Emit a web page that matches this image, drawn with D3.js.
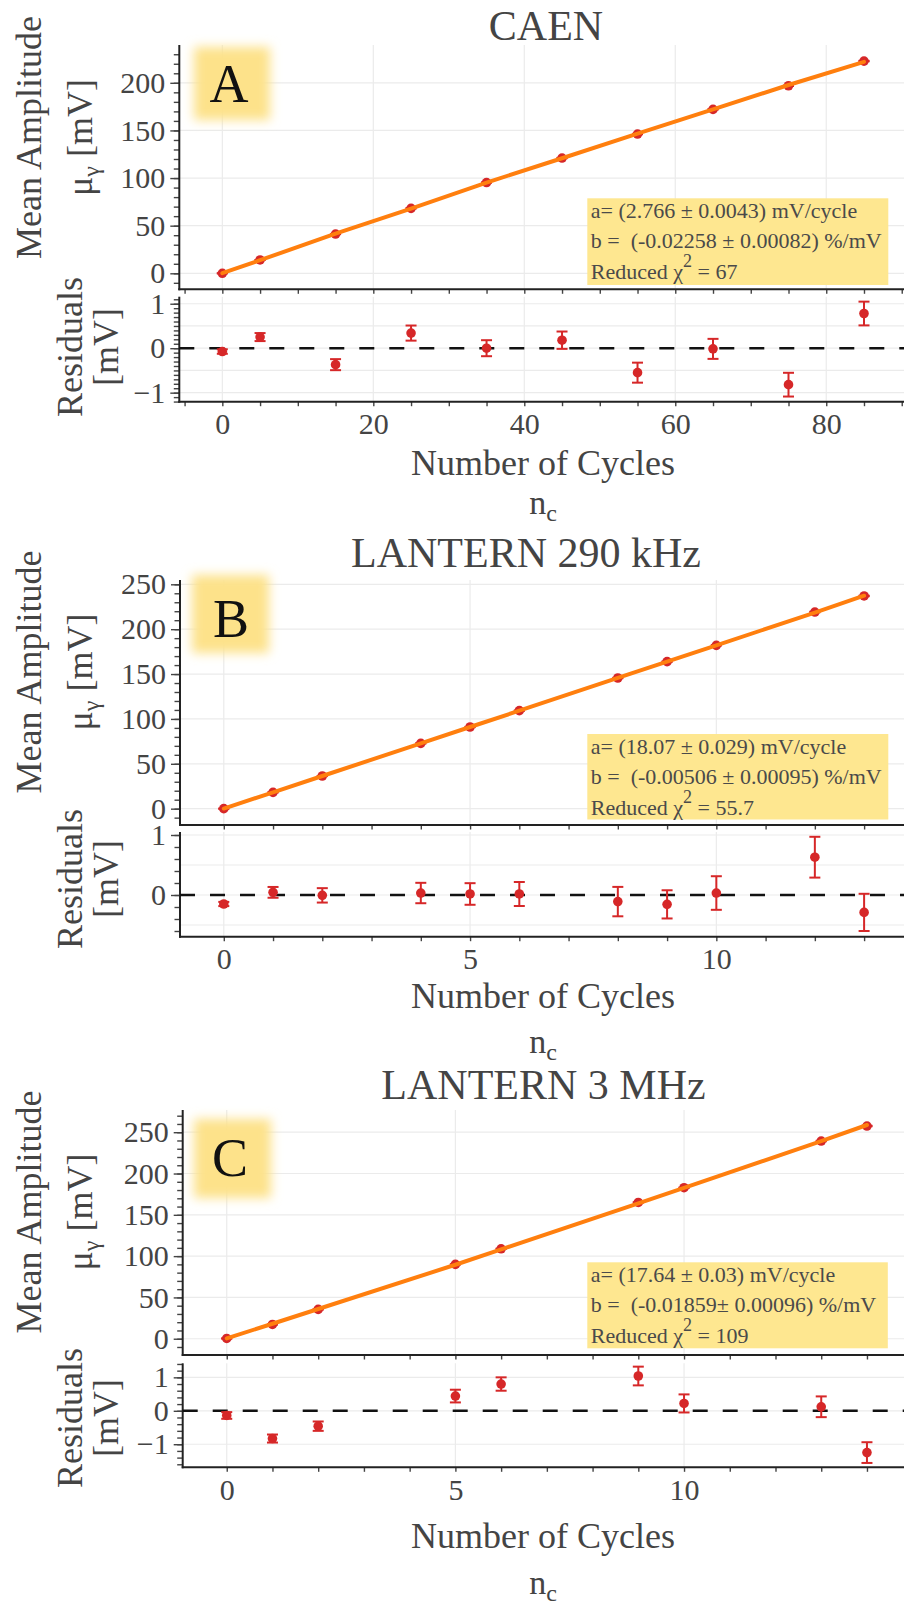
<!DOCTYPE html>
<html>
<head>
<meta charset="utf-8">
<script src="https://cdn.jsdelivr.net/npm/d3@7"></script>
<style>
  body { margin: 0; background: #fff; }
  svg { display: block; }
  text { font-family: "Liberation Serif", "Times New Roman", Times, serif; }
</style>
</head>
<body>
<svg id="chart" width="904" height="1602"></svg>
<script>
// ---------- CAEN digitiser ----------
const cyclesA   = [0, 5, 15, 25, 35, 45, 55, 65, 75, 85];
const meanA     = [0, 14.0, 41.2, 68.2, 95.3, 121.0, 146.2, 172.1, 196.9, 222.8];
const residA    = [-0.075, 0.25, -0.37, 0.34, 0.0, 0.18, -0.55, -0.015, -0.82, 0.78];
const errA      = [0.05, 0.09, 0.124, 0.17, 0.18, 0.195, 0.225, 0.225, 0.267, 0.267];
const xTicksA   = [0, 20, 40, 60, 80];
const yTicksA   = [0, 50, 100, 150, 200];
const resTicksA = [-1, 0, 1];
const resGridA  = [-1, -0.5, 0, 0.5, 1];
const fitA      = ["a= (2.766 ± 0.0043) mV/cycle", "b =\u00a0 (-0.02258 ± 0.00082) %/mV", "67"];

// ---------- LANTERN 290 kHz ----------
const cyclesB   = [0, 1, 2, 4, 5, 6, 8, 9, 10, 12, 13];
const meanB     = [0, 18.2, 36.4, 72.8, 91.0, 109.2, 145.6, 163.8, 182.0, 219.1, 237.0];
const residB    = [-0.15, 0.044, -0.006, 0.033, 0.017, 0.017, -0.11, -0.156, 0.033, 0.63, -0.29];
const errB      = [0.035, 0.09, 0.12, 0.17, 0.18, 0.2, 0.245, 0.235, 0.28, 0.34, 0.31];
const xTicksB   = [0, 5, 10];
const yTicksB   = [0, 50, 100, 150, 200, 250];
const resTicksB = [0, 1];
const resGridB  = [-0.5, 0, 0.5, 1];
const fitB      = ["a= (18.07 ± 0.029) mV/cycle", "b =\u00a0 (-0.00506 ± 0.00095) %/mV", "55.7"];

// ---------- LANTERN 3 MHz ----------
const cyclesC   = [0, 1, 2, 5, 6, 9, 10, 13, 14];
const meanC     = [0.3, 17.3, 35.5, 90.0, 108.9, 165.0, 182.8, 239.3, 257.5];
const residC    = [-0.14, -0.83, -0.46, 0.44, 0.8, 1.04, 0.22, 0.12, -1.25];
const errC      = [0.1, 0.12, 0.14, 0.19, 0.2, 0.28, 0.27, 0.31, 0.31];
const xTicksC   = [0, 5, 10];
const yTicksC   = [0, 50, 100, 150, 200, 250];
const resTicksC = [-1, 0, 1];
const resGridC  = [-1, 0, 1];
const fitC      = ["a= (17.64 ± 0.03) mV/cycle", "b =\u00a0 (-0.01859± 0.00096) %/mV", "109"];

const INK = "#444";
const RED = "#d62728";
const ORANGE = "#ff7f0e";
const GRID = "#ebebeb";
const NOTE_FILL = "#fee790";

const svg = d3.select("#chart");
svg.append("rect").attr("width", 904).attr("height", 1602).attr("fill", "#fff");

const defs = svg.append("defs");
defs.append("filter").attr("id", "soft")
  .attr("x", "-50%").attr("y", "-50%").attr("width", "200%").attr("height", "200%")
  .append("feGaussianBlur").attr("stdDeviation", 5.5);

const panels = [
  {
    letter: "A", title: "CAEN",
    cycles: cyclesA, mean: meanA, resid: residA, err: errA,
    xTicks: xTicksA, yTicks: yTicksA, resTicks: resTicksA, resGrid: resGridA, fit: fitA,
    xMinor: d3.range(-5, 91, 5), yMinor: d3.range(-10, 231, 10), resMinor: d3.range(-12, 12).map(d => d / 10),
    xRange: [179.3, 904], xDomain: [-5.7, 90.3],
    topRange: [289.3, 45], topDomain: [-16.8, 239.7],
    resRange: [401.7, 296.7], resDomain: [-1.203, 1.158],
    titleAt: [546, 40], box: [194, 47, 76, 73], letterAt: [229, 102],
    note: [587.3, 198.3, 301, 86.7],
    meanLabelY: 137.5, resLabelY: 347, cyclesY: 475, ncY: 514
  },
  {
    letter: "B", title: "LANTERN 290 kHz",
    cycles: cyclesB, mean: meanB, resid: residB, err: errB,
    xTicks: xTicksB, yTicks: yTicksB, resTicks: resTicksB, resGrid: resGridB, fit: fitB,
    xMinor: d3.range(0, 14, 1), yMinor: d3.range(-10, 251, 10), resMinor: d3.range(-3, 6).map(d => d / 5),
    xRange: [180, 904], xDomain: [-0.889, 13.81],
    topRange: [825, 580], topDomain: [-18.2, 254.8],
    resRange: [936.7, 832], resDomain: [-0.695, 1.05],
    titleAt: [526, 567], box: [192, 575, 77, 78], letterAt: [231, 636.5],
    note: [587.3, 734, 301, 85.5],
    meanLabelY: 672, resLabelY: 879, cyclesY: 1008, ncY: 1053
  },
  {
    letter: "C", title: "LANTERN 3 MHz",
    cycles: cyclesC, mean: meanC, resid: residC, err: errC,
    xTicks: xTicksC, yTicks: yTicksC, resTicks: resTicksC, resGrid: resGridC, fit: fitC,
    xMinor: d3.range(0, 15, 1), yMinor: d3.range(-10, 271, 10), resMinor: d3.range(-8, 8).map(d => d / 5),
    xRange: [182.7, 904], xDomain: [-0.963, 14.81],
    topRange: [1355, 1110], topDomain: [-19.7, 276.9],
    resRange: [1467.3, 1363.3], resDomain: [-1.69, 1.42],
    titleAt: [543.5, 1099], box: [194, 1119, 77, 79], letterAt: [230, 1176],
    note: [587.3, 1262.3, 300.5, 86],
    meanLabelY: 1212, resLabelY: 1418, cyclesY: 1548, ncY: 1594
  }
];

function rotatedLabel(g, x, y, build) {
  const t = g.append("text")
    .attr("transform", `translate(${x},${y}) rotate(-90)`)
    .attr("text-anchor", "middle")
    .attr("font-size", 36)
    .attr("fill", INK);
  build(t);
  return t;
}

function styleAxis(g) {
  g.select(".domain").remove();
  g.selectAll(".tick line").attr("stroke", INK).attr("stroke-width", 1.4);
  g.selectAll(".tick text").attr("fill", INK).attr("font-size", 30)
    .attr("font-family", '"Liberation Serif", "Times New Roman", serif');
}

function drawErrorPoints(sel, data, fx, fy, flo, fhi) {
  const cap = 5.5;
  const e = sel.selectAll("g.err").data(data).join("g").attr("class", "err")
    .attr("stroke", RED).attr("stroke-width", 2);
  e.append("line").attr("x1", fx).attr("x2", fx).attr("y1", flo).attr("y2", fhi);
  e.append("line").attr("x1", d => fx(d) - cap).attr("x2", d => fx(d) + cap).attr("y1", flo).attr("y2", flo);
  e.append("line").attr("x1", d => fx(d) - cap).attr("x2", d => fx(d) + cap).attr("y1", fhi).attr("y2", fhi);
  sel.selectAll("circle").data(data).join("circle")
    .attr("cx", fx).attr("cy", fy).attr("r", 4.8).attr("fill", RED);
}

panels.forEach(p => {
  const g = svg.append("g");
  const x = d3.scaleLinear().domain(p.xDomain).range(p.xRange);
  const yTop = d3.scaleLinear().domain(p.topDomain).range(p.topRange);
  const yRes = d3.scaleLinear().domain(p.resDomain).range(p.resRange);
  const x0 = p.xRange[0], x1 = p.xRange[1];

  // ---- gridlines ----
  const grid = g.append("g").attr("stroke", GRID).attr("stroke-width", 1.2);
  p.xTicks.forEach(v => {
    grid.append("line").attr("x1", x(v)).attr("x2", x(v)).attr("y1", p.topRange[1]).attr("y2", p.topRange[0]);
    grid.append("line").attr("x1", x(v)).attr("x2", x(v)).attr("y1", p.resRange[1]).attr("y2", p.resRange[0]);
  });
  p.yTicks.forEach(v => {
    grid.append("line").attr("x1", x0).attr("x2", x1).attr("y1", yTop(v)).attr("y2", yTop(v));
  });
  p.resGrid.forEach(v => {
    grid.append("line").attr("x1", x0).attr("x2", x1).attr("y1", yRes(v)).attr("y2", yRes(v));
  });

  // ---- title ----
  g.append("text").attr("x", p.titleAt[0]).attr("y", p.titleAt[1])
    .attr("text-anchor", "middle").attr("font-size", 42).attr("fill", INK).text(p.title);

  // ---- panel letter on soft highlight ----
  g.append("rect").attr("x", p.box[0]).attr("y", p.box[1]).attr("width", p.box[2]).attr("height", p.box[3])
    .attr("fill", "#fde28a").attr("filter", "url(#soft)");
  g.append("text").attr("x", p.letterAt[0]).attr("y", p.letterAt[1])
    .attr("text-anchor", "middle").attr("font-size", 54).attr("fill", "#111").text(p.letter);

  // ---- fit annotation ----
  const [nx, ny, nw, nh] = p.note;
  g.append("rect").attr("x", nx).attr("y", ny).attr("width", nw).attr("height", nh).attr("fill", NOTE_FILL);
  const noteText = g.append("g").attr("font-size", 22).attr("fill", "#4a4a4a");
  noteText.append("text").attr("x", nx + 3.5).attr("y", ny + 20).text(p.fit[0]);
  noteText.append("text").attr("x", nx + 3.5).attr("y", ny + 50).text(p.fit[1]);
  const chi = noteText.append("text").attr("x", nx + 3.5).attr("y", ny + 81);
  chi.append("tspan").text("Reduced χ");
  chi.append("tspan").attr("font-size", 18).attr("dy", -12).text("2");
  chi.append("tspan").attr("dy", 12).text(" = " + p.fit[2]);

  // ---- top panel axes ----
  const topAxisY = p.topRange[0];
  g.append("g").attr("transform", `translate(${x0},0)`)
    .call(d3.axisLeft(yTop).tickValues(p.yMinor).tickSize(5.5).tickFormat(""))
    .call(styleAxis);
  g.append("g").attr("transform", `translate(${x0},0)`)
    .call(d3.axisLeft(yTop).tickValues(p.yTicks).tickSize(9).tickPadding(5).tickFormat(d3.format("d")))
    .call(styleAxis);
  g.append("g").attr("transform", `translate(0,${topAxisY})`)
    .call(d3.axisBottom(x).tickValues(p.xMinor).tickSize(4.5).tickFormat(""))
    .call(styleAxis);
  g.append("line").attr("x1", x0).attr("x2", x0).attr("y1", p.topRange[1]).attr("y2", topAxisY + 1)
    .attr("stroke", "#222").attr("stroke-width", 2);
  g.append("line").attr("x1", x0 - 1).attr("x2", x1).attr("y1", topAxisY).attr("y2", topAxisY)
    .attr("stroke", "#222").attr("stroke-width", 2);

  // ---- residual panel axes ----
  const resAxisY = p.resRange[0];
  g.append("g").attr("transform", `translate(${x0},0)`)
    .call(d3.axisLeft(yRes).tickValues(p.resMinor).tickSize(5.5).tickFormat(""))
    .call(styleAxis);
  g.append("g").attr("transform", `translate(${x0},0)`)
    .call(d3.axisLeft(yRes).tickValues(p.resTicks).tickSize(9).tickPadding(5).tickFormat(d3.format("d")))
    .call(styleAxis);
  g.append("g").attr("transform", `translate(0,${resAxisY})`)
    .call(d3.axisBottom(x).tickValues(p.xMinor).tickSize(4.5).tickFormat(""))
    .call(styleAxis);
  g.append("g").attr("transform", `translate(0,${resAxisY})`)
    .call(d3.axisBottom(x).tickValues(p.xTicks).tickSize(0).tickPadding(11).tickFormat(d3.format("d")))
    .call(styleAxis);
  g.append("line").attr("x1", x0).attr("x2", x0).attr("y1", p.resRange[1]).attr("y2", resAxisY + 1)
    .attr("stroke", "#222").attr("stroke-width", 2);
  g.append("line").attr("x1", x0 - 1).attr("x2", x1).attr("y1", resAxisY).attr("y2", resAxisY)
    .attr("stroke", "#222").attr("stroke-width", 2);

  // zero reference in the residual panel
  g.append("line").attr("x1", x0).attr("x2", x1).attr("y1", yRes(0)).attr("y2", yRes(0))
    .attr("stroke", "#111").attr("stroke-width", 2.6).attr("stroke-dasharray", "15,15");

  // ---- measured points with error bars (top) ----
  const pts = p.cycles.map((c, i) => ({ c, m: p.mean[i], r: p.resid[i], e: p.err[i] }));
  const top = g.append("g");
  drawErrorPoints(top, pts, d => x(d.c), d => yTop(d.m), d => yTop(d.m - d.e), d => yTop(d.m + d.e));

  // fitted curve: measurement minus its residual
  const line = d3.line().x(d => x(d.c)).y(d => yTop(d.m - d.r));
  g.append("path").datum(pts).attr("d", line)
    .attr("fill", "none").attr("stroke", ORANGE).attr("stroke-width", 4).attr("stroke-linecap", "round");

  // ---- residual points ----
  const res = g.append("g");
  drawErrorPoints(res, pts, d => x(d.c), d => yRes(d.r), d => yRes(d.r - d.e), d => yRes(d.r + d.e));

  // ---- axis titles ----
  rotatedLabel(g, 41, p.meanLabelY, t => t.text("Mean Amplitude"));
  rotatedLabel(g, 92, p.meanLabelY, t => {
    t.append("tspan").text("μ");
    t.append("tspan").attr("font-size", 24).attr("dy", 7).text("γ");
    t.append("tspan").attr("dy", -7).text(" [mV]");
  });
  rotatedLabel(g, 82, p.resLabelY, t => t.text("Residuals"));
  rotatedLabel(g, 118, p.resLabelY, t => t.text("[mV]"));

  g.append("text").attr("x", 543).attr("y", p.cyclesY).attr("text-anchor", "middle")
    .attr("font-size", 36).attr("fill", INK).text("Number of Cycles");
  const nc = g.append("text").attr("x", 543).attr("y", p.ncY).attr("text-anchor", "middle")
    .attr("font-size", 34).attr("fill", INK);
  nc.append("tspan").text("n");
  nc.append("tspan").attr("font-size", 24).attr("dy", 7).text("c");
});
</script>
</body>
</html>
